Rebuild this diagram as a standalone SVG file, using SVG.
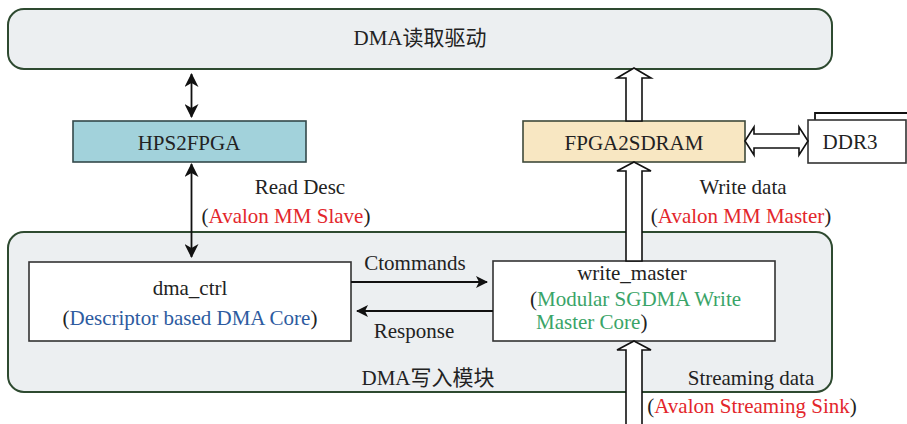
<svg xmlns="http://www.w3.org/2000/svg" width="907" height="424" viewBox="0 0 907 424">
<defs>
<style>
.t{font-family:"Liberation Serif","Noto Sans CJK SC",serif;font-size:21px;fill:#222;}
.c{text-anchor:middle;}
.red{fill:#e3262b;}
.blue{fill:#2d5b9f;}
.green{fill:#3aa468;}
.cont{fill:#eceff1;stroke:#2e4a30;stroke-width:2;}
.box{fill:#fff;stroke:#333;stroke-width:1.6;}
.hollow{fill:#fff;stroke:#111;stroke-width:1.6;stroke-linejoin:miter;}
.line{stroke:#111;stroke-width:1.8;fill:none;}
</style>
<marker id="st" viewBox="0 0 14 14" refX="13" refY="7" markerWidth="14" markerHeight="14" markerUnits="userSpaceOnUse" orient="auto-start-reverse">
<path d="M0,0 L14,7 L0,14 L4,7 Z" fill="#111"/>
</marker>
<marker id="sm" viewBox="0 0 12 12" refX="11" refY="6" markerWidth="12" markerHeight="12" markerUnits="userSpaceOnUse" orient="auto-start-reverse">
<path d="M0,0 L12,6 L0,12 L3,6 Z" fill="#111"/>
</marker>
</defs>

<g id="top">
<rect class="cont" x="8" y="9" width="824" height="60" rx="16"/>
<text class="t c" x="420" y="45">DMA读取驱动</text>
</g>

<g id="container">
<rect class="cont" x="8" y="232" width="824" height="160" rx="16"/>
<text class="t c" x="428" y="385">DMA写入模块</text>
</g>

<g id="hps2fpga">
<rect x="73" y="121" width="233" height="41" fill="#a2d2db" stroke="#34494a" stroke-width="1.6"/>
<text class="t c" x="189" y="150">HPS2FPGA</text>
</g>

<g id="fpga2sdram">
<rect x="523" y="121" width="222" height="41" fill="#f8e7c2" stroke="#3f4a3a" stroke-width="1.6"/>
<text class="t c" x="634" y="150">FPGA2SDRAM</text>
</g>

<g id="ddr3">
<polyline class="line" points="815,120 815,113 907,113" stroke="#333" stroke-width="1.6"/>
<rect class="box" x="808" y="120" width="98" height="43"/>
<text class="t c" x="850" y="149">DDR3</text>
</g>

<g id="dma_ctrl">
<rect class="box" x="29" y="262" width="322" height="79"/>
<text class="t c" x="190" y="295">dma_ctrl</text>
<text class="t c" x="190" y="325">(<tspan class="blue">Descriptor based DMA Core</tspan>)</text>
</g>

<g id="write_master">
<rect class="box" x="493" y="261" width="282" height="80"/>
<text class="t c" x="632" y="280">write_master</text>
<text class="t" x="530" y="306">(<tspan class="green">Modular SGDMA Write</tspan></text>
<text class="t" x="536" y="329"><tspan class="green">Master Core</tspan>)</text>
</g>

<g id="connectors">
<line class="line" x1="191.5" y1="74" x2="191.5" y2="117" marker-start="url(#st)" marker-end="url(#st)"/>
<line class="line" x1="191.5" y1="164" x2="191.5" y2="257" marker-start="url(#st)" marker-end="url(#st)"/>
<polygon class="hollow" points="634,68 651,78 642,78 642,121 626,121 626,78 617,78"/>
<polygon class="hollow" points="634,162 651,171 642,171 642,261 626,261 626,171 617,171"/>
<polygon class="hollow" points="634,341 651,350 642,350 642,426 626,426 626,350 617,350"/>
<polygon class="hollow" points="745,141 754,127 754,134 799,134 799,127 808,141 799,155 799,148 754,148 754,155"/>
<line class="line" x1="351" y1="282" x2="487" y2="282" marker-end="url(#sm)"/>
<line class="line" x1="493" y1="311" x2="357" y2="311" marker-end="url(#sm)"/>
<text class="t c" x="415" y="270">Ctommands</text>
<text class="t c" x="414" y="338">Response</text>
<text class="t c" x="300" y="194">Read Desc</text>
<text class="t c" x="286" y="223">(<tspan class="red">Avalon MM Slave</tspan>)</text>
<text class="t c" x="743" y="194">Write data</text>
<text class="t c" x="741" y="223">(<tspan class="red">Avalon MM Master</tspan>)</text>
<text class="t c" x="751" y="385">Streaming data</text>
<text class="t c" x="752" y="413">(<tspan class="red">Avalon Streaming Sink</tspan>)</text>
</g>
</svg>
